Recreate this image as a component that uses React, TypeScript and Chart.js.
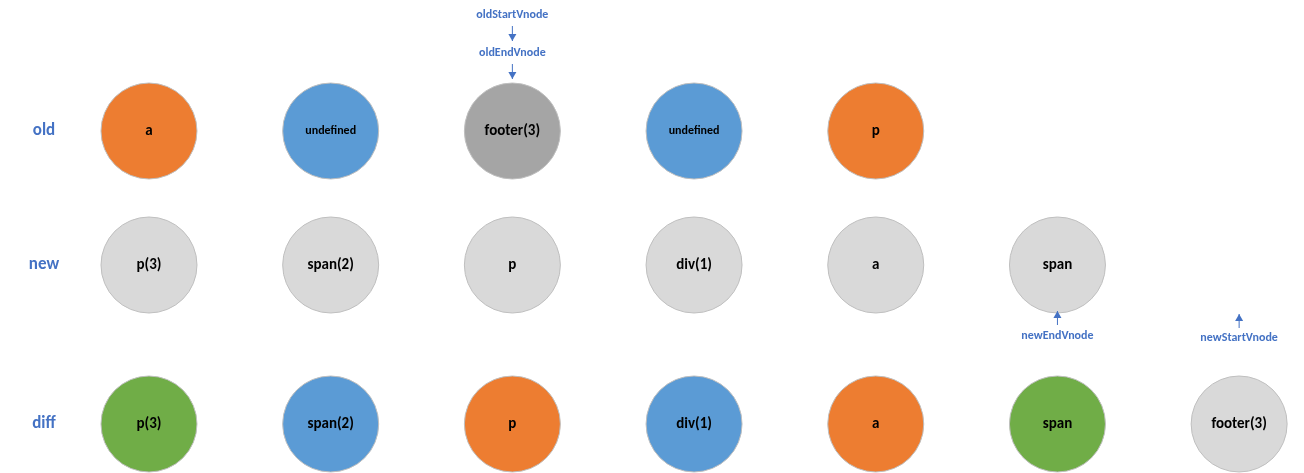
import React, { useEffect, useRef } from 'react';
import { Chart, registerables } from 'chart.js';

Chart.register(...registerables);

// row names and their vertical position (data units = px of a 473 tall view)
const rowNames = ['old', 'new', 'diff'];
const rowY = [131, 265, 424];

const oldNodes = ['a', 'undefined', 'footer(3)', 'undefined', 'p'];
const oldColors = ['#ED7D31', '#5B9BD5', '#A5A5A5', '#5B9BD5', '#ED7D31'];
const newNodes = ['p(3)', 'span(2)', 'p', 'div(1)', 'a', 'span'];
const newColors = ['#D9D9D9', '#D9D9D9', '#D9D9D9', '#D9D9D9', '#D9D9D9', '#D9D9D9'];
const diffNodes = ['p(3)', 'span(2)', 'p', 'div(1)', 'a', 'span', 'footer(3)'];
const diffColors = ['#70AD47', '#5B9BD5', '#ED7D31', '#5B9BD5', '#ED7D31', '#70AD47', '#D9D9D9'];

// pointer labels: [text, column, label y, arrow from y, arrow to y]
const pointers: [string, number, number, number, number][] = [
  ['oldStartVnode', 2, 15, 26, 41],
  ['oldEndVnode', 2, 53, 64, 79],
  ['newEndVnode', 5, 336, 325, 311],
  ['newStartVnode', 6, 338, 328, 314],
];

const BLUE = '#4472C4';

const App = () => {
  const canvasRef = useRef<HTMLCanvasElement | null>(null);

  useEffect(() => {
    document.body.style.margin = '0';
    if (!canvasRef.current) return;
    const rows = [
      { names: oldNodes, colors: oldColors },
      { names: newNodes, colors: newColors },
      { names: diffNodes, colors: diffColors },
    ];
    const datasets = rows.map((r, ri) => ({
      data: r.names.map((_, i) => ({ x: i, y: rowY[ri] })),
      backgroundColor: r.colors,
      borderColor: '#BFBFBF',
      borderWidth: 1,
      pointRadius: 48,
      pointHoverRadius: 48,
      clip: false as any,
    }));

    const labelPlugin = {
      id: 'labels',
      afterDatasetsDraw(chart: any) {
        const ctx = chart.ctx;
        const xs = chart.scales.x;
        const ys = chart.scales.y;
        ctx.save();
        ctx.textAlign = 'center';
        ctx.textBaseline = 'middle';
        rows.forEach((r, ri) => {
          r.names.forEach((n, i) => {
            ctx.fillStyle = '#000';
            ctx.font = n === 'undefined' ? 'bold 12px Calibri, "Open Sans", sans-serif' : 'bold 15px Calibri, "Open Sans", sans-serif';
            ctx.fillText(n, xs.getPixelForValue(i), ys.getPixelForValue(rowY[ri]));
          });
          ctx.fillStyle = BLUE;
          ctx.font = 'bold 17px Calibri, "Open Sans", sans-serif';
          ctx.fillText(rowNames[ri], 44, ys.getPixelForValue(rowY[ri]));
        });
        pointers.forEach(([t, col, ly, a0, a1]) => {
          const x = xs.getPixelForValue(col);
          ctx.fillStyle = BLUE;
          ctx.font = 'bold 12px Calibri, "Open Sans", sans-serif';
          ctx.fillText(t, x, ys.getPixelForValue(ly));
          const y0 = ys.getPixelForValue(a0);
          const y1 = ys.getPixelForValue(a1);
          ctx.strokeStyle = BLUE;
          ctx.lineWidth = 1;
          ctx.beginPath();
          ctx.moveTo(x, y0);
          ctx.lineTo(x, y1);
          ctx.stroke();
          const d = y1 > y0 ? 1 : -1;
          ctx.beginPath();
          ctx.moveTo(x, y1);
          ctx.lineTo(x - 4, y1 - d * 7);
          ctx.lineTo(x + 4, y1 - d * 7);
          ctx.closePath();
          ctx.fill();
        });
        ctx.restore();
      },
    };

    const chart = new Chart(canvasRef.current, {
      type: 'scatter',
      data: { datasets },
      options: {
        animation: false,
        responsive: true,
        maintainAspectRatio: false,
        layout: { padding: 0, autoPadding: false },
        plugins: { legend: { display: false }, tooltip: { enabled: false } },
        scales: {
          x: { type: 'linear', display: false, min: -0.82, max: 6.357 },
          y: { type: 'linear', display: false, min: 0, max: 473, reverse: true },
        },
      },
      plugins: [labelPlugin],
    });
    return () => chart.destroy();
  }, []);

  return (
    <div style={{ width: 1304, height: 473, position: 'relative', background: '#fff' }}>
      <canvas ref={canvasRef}></canvas>
    </div>
  );
};

export default App;
